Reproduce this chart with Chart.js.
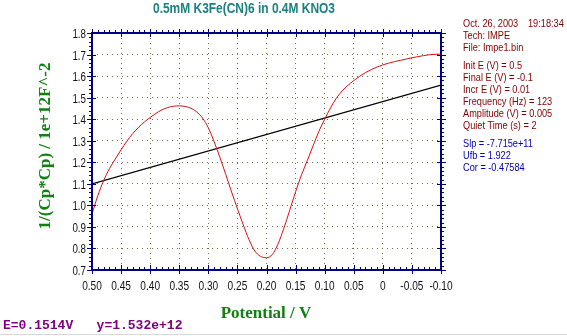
<!DOCTYPE html>
<html><head><meta charset="utf-8">
<script src="https://cdn.jsdelivr.net/npm/chart.js@4/dist/chart.umd.min.js"></script>
<style>html,body{margin:0;padding:0;background:#fff}#wrap{width:567px;height:336px}</style>
</head><body><div id="wrap"><canvas id="c" width="567" height="336"></canvas></div>
<script>
const potentials = [0.50,0.49,0.48,0.47,0.46,0.45,0.44,0.43,0.42,0.41,0.40,0.39,0.38,0.37,0.36,0.35,0.34,0.33,0.32,0.31,0.30,0.29,0.28,0.27,0.26,0.25,0.24,0.23,0.22,0.21,0.20,0.19,0.18,0.17,0.16,0.15,0.14,0.13,0.12,0.11,0.10,0.09,0.08,0.07,0.06,0.05,0.04,0.03,0.02,0.01,0.00,-0.01,-0.02,-0.03,-0.04,-0.05,-0.06,-0.07,-0.08,-0.09,-0.10];
const invCapSq = [0.96,1.045,1.115,1.17,1.215,1.258,1.298,1.333,1.362,1.387,1.408,1.427,1.443,1.454,1.460,1.462,1.459,1.451,1.434,1.405,1.36,1.295,1.222,1.143,1.062,0.985,0.91,0.84,0.788,0.763,0.757,0.772,0.822,0.895,0.978,1.063,1.14,1.207,1.276,1.343,1.40,1.452,1.497,1.531,1.557,1.579,1.599,1.616,1.630,1.642,1.652,1.660,1.667,1.673,1.679,1.685,1.690,1.695,1.699,1.701,1.702];
const fitPotentials = [0.50,-0.10];
const fitValues = [1.10,1.558];
const xTicks = [0.50,0.45,0.40,0.35,0.30,0.25,0.20,0.15,0.10,0.05,0,-0.05,-0.10];
const yTicks = [0.7,0.8,0.9,1.0,1.1,1.2,1.3,1.4,1.5,1.6,1.7,1.8];
const titleText = '0.5mM K3Fe(CN)6 in 0.4M KNO3';
const xTitle = 'Potential / V';
const yTitle = '1/(Cp*Cp) / 1e+12F^-2';
const statusText = 'E=0.1514V   y=1.532e+12';
const infoHeader = ['Oct. 26, 2003', '19:18:34'];
const infoLines1 = ['Tech: IMPE','File: Impe1.bin'];
const infoLines2 = ['Init E (V) = 0.5','Final E (V) = -0.1','Incr E (V) = 0.01','Frequency (Hz) = 123','Amplitude (V) = 0.005','Quiet Time (s) = 2'];
const fitLines = ['Slp = -7.715e+11','Ufb = 1.922','Cor = -0.47584'];

const NAVY = '#000080';
function sText(ctx, t, x, y, sx, align){
  ctx.save(); ctx.translate(x,y); ctx.scale(sx,1); ctx.textAlign=align||'left'; ctx.fillText(t,0,0); ctx.restore();
}
const deco = {
  id:'deco',
  afterDraw(chart){
    const ctx = chart.ctx, a = chart.chartArea;
    const xs = chart.scales.x, ys = chart.scales.y;
    ctx.save();
    ctx.strokeStyle = NAVY; ctx.lineWidth = 2;
    ctx.strokeRect(a.left, a.top, a.right-a.left, a.bottom-a.top);
    ctx.lineWidth = 1;
    ctx.beginPath();
    for (let i=0;i<=60;i++){
      const v = -0.10 + i*0.01;
      const px = Math.round(xs.getPixelForValue(v))+0.5;
      const major = i%5===0;
      ctx.moveTo(px, a.bottom-(major?5:3)); ctx.lineTo(px, a.bottom+(major?4:0));
      ctx.moveTo(px, a.top-(major?4:3)); ctx.lineTo(px, a.top+(major?4:0));
    }
    for (let i=0;i<=55;i++){
      const v = 0.7 + i*0.02;
      const py = Math.round(ys.getPixelForValue(v))+0.5;
      const major = i%5===0;
      ctx.moveTo(a.left-(major?5:3), py); ctx.lineTo(a.left+(major?4:0), py);
      ctx.moveTo(a.right-(major?4:0), py); ctx.lineTo(a.right+(major?5:3), py);
    }
    ctx.stroke();
    // tick labels
    ctx.fillStyle = '#101018';
    ctx.font = '13px "Liberation Sans", Arial, sans-serif';
    ctx.textBaseline = 'alphabetic';
    xTicks.forEach(v=>{
      const t = Math.abs(v)<1e-9 ? '0' : v.toFixed(2);
      sText(ctx, t, xs.getPixelForValue(v), a.bottom+20, 0.78, 'center');
    });
    yTicks.forEach(v=>{
      sText(ctx, v.toFixed(1), a.left-6, ys.getPixelForValue(v)+5, 0.75, 'right');
    });
    // title
    ctx.fillStyle = '#1a8080';
    ctx.font = 'bold 15px "Liberation Sans", Arial, sans-serif';
    ctx.textBaseline='alphabetic';
    {
      const w = ctx.measureText(titleText).width;
      sText(ctx, titleText, 244, 13, 182/w, 'center');
    }
    // axis titles
    ctx.fillStyle = '#108010';
    ctx.font = 'bold 17px "Liberation Serif", "DejaVu Serif", serif';
    ctx.textAlign='center';
    ctx.fillText(xTitle, 266, 318);
    ctx.save();
    ctx.translate(50, 146); ctx.rotate(-Math.PI/2);
    ctx.fillText(yTitle, 0, 0);
    ctx.restore();
    // status text
    ctx.fillStyle = '#800080';
    ctx.font = 'bold 13px "Liberation Mono", "DejaVu Sans Mono", monospace';
    ctx.textAlign='left';
    ctx.fillText(statusText, 3, 329);
    ctx.strokeStyle='#d8d8d8'; ctx.beginPath(); ctx.moveTo(0,334.5); ctx.lineTo(567,334.5); ctx.stroke();
    // info panel
    ctx.font = '11.5px "Liberation Sans", Arial, sans-serif';
    const sx = 0.8;
    ctx.fillStyle = '#800000';
    sText(ctx, infoHeader[0], 463, 27, sx);
    sText(ctx, infoHeader[1], 528, 27, sx);
    let y = 39;
    infoLines1.forEach(t=>{sText(ctx,t,463,y,sx); y+=12;});
    y = 69;
    infoLines2.forEach(t=>{sText(ctx,t,463,y,sx); y+=12;});
    ctx.fillStyle = '#0000b0';
    y = 147;
    fitLines.forEach(t=>{sText(ctx,t,463,y,sx); y+=12;});
    ctx.restore();
  }
};

new Chart(document.getElementById('c'), {
  type:'scatter',
  data:{datasets:[
    {data: potentials.map((p,i)=>({x:p,y:invCapSq[i]})), showLine:true, borderColor:'#d81010', borderWidth:1, pointRadius:0, cubicInterpolationMode:'monotone'},
    {data: fitPotentials.map((p,i)=>({x:p,y:fitValues[i]})), showLine:true, borderColor:'#000000', borderWidth:1.2, pointRadius:0}
  ]},
  plugins:[deco],
  options:{
    responsive:false, animation:false, devicePixelRatio:1,
    layout:{padding:{left:52, right:126, top:33, bottom:36}},
    plugins:{legend:{display:false}, tooltip:{enabled:false}},
    scales:{
      x:{type:'linear', reverse:true, min:-0.1, max:0.5,
        afterFit(s){s.height=30;},
        afterBuildTicks(s){s.ticks = xTicks.map(v=>({value:v}));},
        ticks:{display:false},
        grid:{color:'#707040', lineWidth:1, drawTicks:false},
        border:{display:false, dash:[1,4]}
      },
      y:{type:'linear', min:0.7, max:1.8,
        afterFit(s){s.width=40;},
        afterBuildTicks(s){s.ticks = yTicks.map(v=>({value:v}));},
        ticks:{display:false},
        grid:{color:'#707040', lineWidth:1, drawTicks:false},
        border:{display:false, dash:[1,4]}
      }
    }
  }
});
</script></body></html>
